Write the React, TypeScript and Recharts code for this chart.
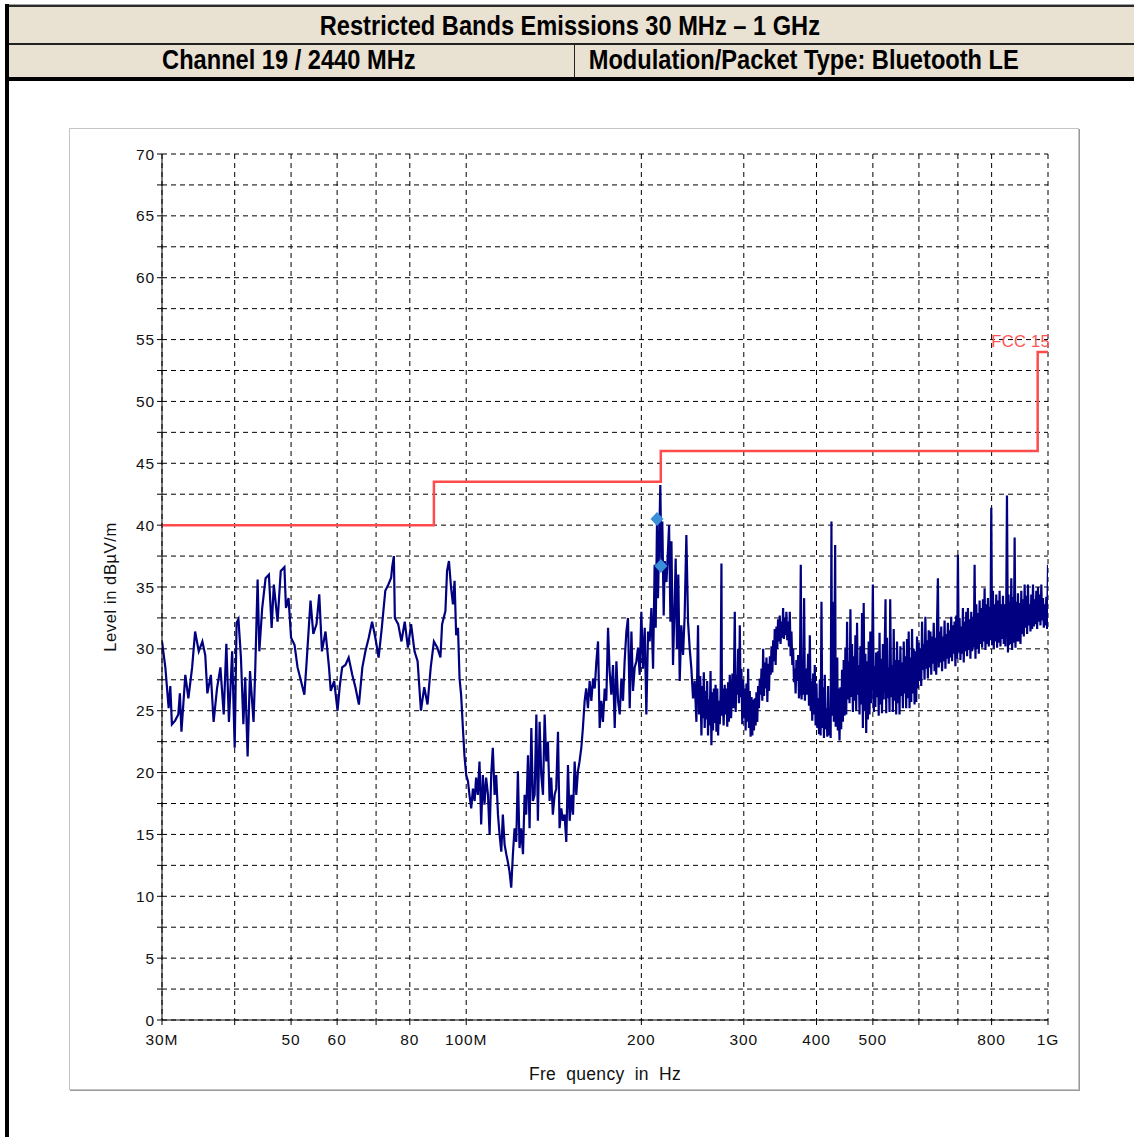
import React from 'react';
import {
  ComposedChart,
  Line,
  Scatter,
  XAxis,
  YAxis,
  CartesianGrid,
  ReferenceDot
} from 'recharts';

// measured trace, [frequency in MHz, level in dBuV/m]
const trace30to100: [number, number][] = [
  [30.0, 30.6], [30.4, 28.5], [30.8, 25.2], [31.0, 27.0], [31.2, 23.9], [31.6, 24.2],
  [32.0, 24.7], [32.2, 26.4], [32.4, 23.3], [32.9, 27.9], [33.3, 26.0], [33.8, 28.5],
  [34.2, 31.4], [34.7, 29.8], [35.2, 30.6], [35.6, 29.5], [35.9, 26.4], [36.4, 27.9],
  [36.8, 24.1], [37.3, 26.8], [37.8, 28.5], [38.3, 24.7], [38.7, 30.4], [39.1, 24.1],
  [39.6, 29.8], [40.0, 22.0], [40.3, 32.1], [40.6, 32.4], [41.0, 29.3], [41.4, 23.9],
  [41.7, 27.7], [42.1, 21.3], [42.5, 28.2], [43.1, 24.1], [43.4, 28.5], [43.8, 35.6],
  [44.1, 29.8], [44.6, 33.3], [45.2, 35.7], [45.8, 36.0], [46.3, 31.7], [46.7, 35.2],
  [47.4, 32.2], [48.0, 36.3], [48.7, 36.6], [49.0, 33.3], [49.5, 34.1], [50.0, 30.9],
  [50.7, 30.3], [51.3, 28.5], [52.0, 27.4], [52.7, 26.3], [53.1, 28.5], [54.0, 33.9],
  [54.6, 31.2], [55.3, 32.0], [55.9, 34.4], [56.5, 29.8], [57.3, 31.4], [58.1, 28.5],
  [58.5, 26.6], [59.3, 27.4], [60.1, 25.0], [60.6, 26.9], [61.2, 28.5], [62.0, 28.7],
  [62.8, 29.3], [63.7, 27.9], [64.5, 26.9], [65.4, 25.5], [66.3, 28.5], [67.1, 29.8],
  [68.0, 30.9], [68.9, 32.2], [69.8, 30.9], [70.7, 29.3], [71.6, 31.7], [72.6, 34.7],
  [73.5, 35.2], [74.3, 35.75], [74.6, 36.6], [75.1, 37.5], [75.4, 32.5], [76.4, 32.0],
  [77.4, 30.6], [78.4, 32.2], [79.4, 30.1], [80.4, 32.0], [81.5, 29.8], [82.5, 29.0],
  [83.6, 25.0], [84.7, 26.9], [85.8, 25.5], [86.9, 28.5], [88.0, 30.6], [89.2, 30.1],
  [90.3, 29.3], [90.9, 32.0], [92.1, 33.05], [92.7, 36.3], [93.4, 37.1], [94.2, 34.9],
  [94.9, 33.6], [95.5, 35.5], [96.1, 31.1], [96.8, 31.7], [97.4, 27.6], [98.0, 26.3],
  [98.7, 23.6], [99.3, 21.4], [100.0, 19.8]
];

const trace100to200: [number, number][] = [
  [100.7, 19.3], [101.3, 18.2], [102.0, 17.1], [102.7, 18.7], [103.4, 17.7], [104.0, 19.6],
  [104.7, 18.2], [105.4, 20.9], [106.1, 15.8], [106.8, 19.8], [107.5, 17.4], [108.2, 19.6],
  [109.0, 18.2], [109.7, 15.0], [110.4, 19.8], [111.1, 22.0], [111.9, 18.2], [112.6, 19.8],
  [113.4, 16.6], [114.1, 15.0], [114.9, 13.6], [115.6, 16.6], [116.4, 14.2], [117.2, 13.4],
  [117.9, 12.8], [118.7, 12.0], [119.5, 10.7], [120.3, 13.4], [121.1, 15.5], [121.9, 14.4],
  [122.7, 20.1], [123.5, 13.9], [124.3, 15.5], [125.2, 13.4], [126.0, 18.2], [126.8, 16.6],
  [127.7, 21.4], [128.5, 15.5], [129.4, 23.6], [130.2, 17.7], [131.1, 18.2], [132.0, 24.7],
  [132.8, 16.1], [133.7, 24.1], [134.6, 19.8], [135.5, 18.2], [136.4, 24.7], [137.3, 20.9],
  [138.2, 22.5], [139.1, 17.7], [140.0, 19.6], [140.9, 16.6], [141.9, 18.2], [142.8, 18.7],
  [143.8, 23.3], [144.7, 15.5], [145.7, 17.1], [146.6, 16.1], [147.6, 16.6], [148.6, 14.4],
  [149.6, 20.6], [150.6, 16.1], [151.6, 18.2], [152.6, 16.6], [153.6, 20.9], [154.6, 18.2],
  [155.6, 20.1], [156.6, 20.9], [157.7, 22.0], [158.7, 23.6], [159.8, 25.8], [160.8, 26.8],
  [161.9, 25.2], [163.0, 27.4], [164.1, 25.8], [165.2, 27.6], [166.3, 26.8], [167.4, 29.0],
  [168.5, 30.6], [169.6, 23.6], [170.7, 25.8], [171.8, 24.1], [173.0, 26.8], [174.1, 25.8],
  [175.3, 31.7], [176.4, 28.2], [177.6, 26.3], [178.8, 28.7], [180.0, 23.6], [181.2, 29.0],
  [182.4, 25.8], [183.6, 24.7], [184.8, 27.6], [186.0, 25.8], [187.2, 29.0], [188.5, 31.4],
  [189.7, 32.5], [191.0, 25.2], [192.3, 31.4], [193.5, 26.6], [194.8, 28.5], [196.1, 29.0],
  [197.4, 30.1], [198.7, 27.9]
];

const trace200to440: [number, number][] = [
  [200.0, 33.0], [201.3, 28.4], [202.7, 31.7], [204.0, 24.7], [205.4, 31.4], [206.7, 30.6],
  [208.1, 33.3], [209.5, 28.4], [210.8, 36.8], [211.7, 31.7], [212.8, 40.4], [213.6, 34.1],
  [214.5, 38.1], [215.6, 43.25], [216.5, 36.8], [217.3, 40.3], [218.5, 32.7], [219.4, 37.1],
  [220.9, 35.4], [222.3, 38.1], [223.2, 40.0], [224.4, 32.2], [225.3, 38.7], [226.7, 28.7],
  [228.2, 33.8], [229.1, 37.3], [230.3, 30.0], [231.5, 36.0], [232.8, 27.4], [234.3, 31.9],
  [235.9, 29.5], [237.4, 32.7], [239.0, 39.2], [240.6, 32.2], [242.2, 30.0], [243.8, 28.4],
  [245.4, 26.0], [247.0, 27.4], [248.7, 24.1], [250.3, 31.9], [251.3, 24.7], [252.5, 27.8],
  [253.7, 23.0], [254.5, 27.0], [255.3, 24.4], [256.1, 28.1], [257.0, 23.6], [257.9, 26.6],
  [258.7, 24.3], [259.5, 27.4], [260.4, 23.0], [261.2, 25.9], [262.1, 23.8], [263.0, 28.2],
  [263.9, 22.2], [264.7, 26.5], [265.6, 23.4], [266.5, 26.8], [267.4, 24.0], [268.3, 27.1],
  [269.2, 23.3], [270.1, 26.8], [271.0, 23.0], [271.9, 25.8], [272.8, 23.9], [273.7, 26.3],
  [274.6, 36.9], [275.2, 24.6], [275.7, 26.8], [277.0, 23.8], [278.2, 27.1], [279.1, 24.7],
  [280.1, 26.8], [281.0, 23.7], [281.9, 27.3], [282.8, 24.1], [283.8, 27.9], [285.3, 24.4],
  [286.8, 28.0], [288.1, 25.2], [289.5, 33.0], [290.5, 24.9], [291.5, 27.9], [292.4, 26.3],
  [293.4, 30.0], [294.3, 25.6], [295.3, 31.9], [296.2, 26.1], [297.2, 28.4], [298.2, 23.9],
  [299.2, 27.5], [300.2, 24.4], [301.2, 26.8], [302.2, 23.4], [303.2, 27.2], [304.2, 24.1],
  [305.2, 28.4], [306.2, 23.6], [307.2, 26.6], [308.2, 22.9], [309.3, 26.1], [310.3, 23.0],
  [311.3, 25.9], [312.3, 23.4], [313.4, 26.0], [314.4, 23.8], [315.4, 26.5], [316.4, 24.1],
  [317.5, 27.0], [318.5, 25.2], [319.6, 27.6], [320.7, 26.3], [321.8, 28.4], [322.8, 25.8],
  [323.9, 30.0], [325.0, 26.2], [326.0, 28.9], [327.1, 26.8], [328.2, 29.3], [329.3, 25.7],
  [330.4, 28.8], [331.5, 26.6], [332.6, 29.4], [333.7, 27.9], [334.8, 30.2], [335.9, 28.1],
  [337.0, 30.7], [338.1, 29.0], [339.1, 31.6], [340.3, 28.7], [341.4, 31.8], [342.5, 30.0],
  [343.6, 32.4], [344.8, 30.6], [345.9, 32.7], [347.0, 30.4], [348.2, 32.2], [349.3, 30.9],
  [350.5, 33.3], [351.6, 30.8], [352.8, 32.5], [353.9, 31.1], [355.1, 33.0], [356.3, 30.7],
  [357.5, 32.2], [358.7, 30.2], [359.9, 33.0], [361.1, 29.4], [362.3, 31.4], [363.5, 28.7],
  [364.7, 30.0], [365.9, 27.3], [367.1, 28.4], [368.3, 26.4], [369.5, 29.1], [370.7, 27.4],
  [372.0, 29.5], [373.2, 26.0], [374.4, 26.8], [375.9, 36.8], [377.1, 25.9], [378.4, 28.6],
  [379.6, 26.3], [380.9, 34.1], [382.1, 25.8], [383.4, 28.4], [385.2, 26.3], [387.0, 29.6],
  [388.3, 25.4], [389.6, 31.1], [390.9, 25.0], [392.1, 27.4], [393.4, 24.2], [394.7, 28.0],
  [396.0, 24.7], [397.3, 28.7], [398.6, 23.8], [400.0, 27.2], [401.3, 23.6], [402.6, 26.0],
  [404.0, 23.1], [405.3, 27.5], [406.6, 23.0], [408.0, 33.8], [409.4, 23.6], [410.7, 26.9],
  [412.0, 22.8], [413.4, 27.9], [414.7, 23.5], [416.1, 25.2], [417.5, 22.9], [418.9, 27.0],
  [420.3, 23.0], [421.7, 24.7], [423.1, 22.8], [424.4, 40.3], [425.3, 24.6], [426.1, 33.8],
  [428.4, 24.1], [430.7, 38.4], [431.6, 23.7], [432.4, 27.6], [433.4, 25.2], [434.3, 29.3],
  [435.2, 23.4], [436.1, 26.8]
];

const trace440to1000: [number, number][] = [
  [438.2, 22.6], [439.7, 26.9], [441.1, 23.5], [442.6, 28.3], [444.0, 24.1], [445.5, 29.1],
  [447.0, 24.6], [448.5, 30.1], [450.0, 24.7], [451.5, 32.2], [452.9, 25.9], [454.4, 29.0],
  [455.9, 25.6], [457.5, 33.2], [459.0, 26.1], [460.5, 30.4], [462.0, 24.9], [463.6, 29.4],
  [465.1, 25.8], [466.6, 31.1], [468.1, 25.0], [469.7, 32.1], [471.2, 26.3], [472.8, 28.7],
  [474.3, 24.7], [475.9, 30.2], [477.5, 25.5], [479.0, 32.9], [480.6, 23.6], [482.2, 33.7],
  [483.8, 25.0], [485.4, 29.6], [487.0, 23.2], [488.6, 29.0], [490.2, 24.3], [491.8, 30.6],
  [493.4, 24.7], [495.0, 31.4], [496.7, 25.6], [498.7, 29.9], [500.0, 35.2], [502.0, 24.9],
  [503.3, 28.6], [505.0, 25.3], [506.6, 29.7], [508.3, 26.1], [510.0, 29.8], [511.7, 24.6],
  [513.4, 31.3], [515.0, 25.5], [516.7, 29.2], [518.4, 24.8], [520.2, 30.4], [521.9, 25.9],
  [523.6, 29.2], [525.7, 34.0], [527.1, 24.8], [528.8, 30.9], [530.6, 26.0], [532.3, 28.5],
  [534.1, 24.9], [535.5, 34.0], [537.6, 26.1], [539.4, 28.7], [541.2, 24.9], [543.0, 31.6],
  [544.8, 25.8], [546.6, 29.1], [548.4, 24.7], [550.2, 30.6], [552.0, 25.6], [553.8, 29.1],
  [555.7, 24.7], [557.5, 30.2], [559.4, 26.2], [561.2, 28.9], [563.1, 25.2], [565.0, 30.6],
  [566.8, 26.4], [568.7, 29.4], [570.5, 25.2], [572.4, 30.8], [574.3, 26.0], [576.2, 31.4],
  [578.1, 25.2], [580.0, 29.3], [582.0, 25.7], [583.9, 31.6], [585.8, 26.4], [587.7, 30.0],
  [589.7, 25.5], [591.6, 29.8], [593.6, 25.7], [595.5, 31.0], [597.5, 26.8], [599.5, 30.5],
  [601.5, 27.4], [603.5, 30.0], [605.5, 27.0], [607.5, 32.2], [609.5, 28.3], [611.5, 30.4],
  [613.5, 27.5], [615.5, 32.6], [617.6, 28.4], [619.6, 30.7], [621.7, 27.6], [623.7, 31.5],
  [625.8, 28.5], [627.9, 31.4], [630.0, 27.9], [632.0, 31.0], [634.1, 28.8], [636.2, 32.1],
  [638.3, 28.2], [640.4, 30.9], [642.5, 27.9], [644.7, 32.2], [646.8, 35.7], [648.9, 28.5],
  [651.1, 31.4], [653.2, 28.9], [655.4, 31.8], [657.5, 28.2], [659.7, 31.0], [661.9, 29.0],
  [664.1, 32.3], [666.3, 28.4], [668.5, 31.2], [670.7, 29.2], [672.9, 32.1], [675.1, 28.8],
  [677.4, 31.5], [679.6, 29.3], [681.8, 32.6], [684.1, 29.0], [686.3, 31.9], [688.6, 29.6],
  [690.9, 32.2], [693.2, 28.6], [695.5, 32.7], [697.8, 29.2], [700.1, 37.6], [702.4, 29.7],
  [704.7, 32.5], [707.1, 29.1], [709.4, 31.8], [711.7, 29.6], [714.1, 33.3], [716.4, 28.9],
  [718.8, 32.2], [721.2, 29.8], [723.6, 33.0], [726.0, 29.4], [728.4, 33.3], [730.8, 29.9],
  [733.2, 32.4], [735.6, 29.2], [738.1, 33.0], [740.5, 29.8], [743.0, 32.6], [745.4, 30.1],
  [747.9, 36.8], [750.4, 29.2], [752.9, 33.6], [755.3, 30.0], [757.8, 32.9], [760.4, 29.6],
  [762.9, 33.9], [765.4, 30.4], [767.9, 33.3], [770.5, 30.1], [773.0, 34.0], [775.6, 30.6],
  [778.1, 34.9], [780.7, 29.9], [783.3, 33.6], [785.8, 30.4], [788.4, 34.1], [791.1, 30.2],
  [793.7, 33.4], [796.3, 30.7], [798.9, 41.4], [801.5, 30.3], [804.2, 34.7], [806.8, 30.0],
  [809.5, 33.6], [812.2, 30.6], [814.9, 34.4], [817.6, 30.1], [820.3, 33.9], [823.0, 30.5],
  [825.7, 34.7], [828.5, 30.2], [831.2, 33.6], [833.9, 30.8], [836.7, 34.3], [839.4, 30.4],
  [842.2, 33.6], [845.0, 30.2], [847.8, 34.0], [850.1, 42.4], [853.4, 29.7], [855.4, 34.4],
  [857.4, 30.3], [859.1, 33.8], [862.0, 30.4], [864.8, 35.7], [867.6, 29.9], [870.5, 34.2],
  [873.4, 30.5], [876.3, 39.0], [879.2, 30.1], [882.1, 33.8], [885.0, 30.6], [887.9, 34.5],
  [890.9, 30.6], [893.8, 33.7], [896.8, 30.4], [899.7, 34.7], [902.7, 31.2], [905.7, 34.0],
  [908.7, 31.0], [911.7, 35.2], [914.7, 31.7], [917.7, 34.3], [920.7, 31.2], [923.8, 35.2],
  [926.8, 31.9], [929.9, 33.6], [933.0, 31.4], [936.1, 34.4], [939.2, 31.6], [942.3, 35.2],
  [945.4, 31.8], [948.5, 34.0], [951.6, 32.0], [954.8, 34.7], [957.9, 31.6], [961.1, 35.0],
  [964.3, 32.2], [967.5, 34.4], [970.7, 31.9], [973.9, 35.2], [977.2, 32.3], [980.4, 34.1],
  [983.6, 31.7], [986.8, 33.6], [990.1, 31.9], [993.4, 34.2], [996.7, 31.6], [1000, 36.8]
];

// FCC 15 limit, stepped
const limitFreq = [30, 88, 216, 960, 1000];
const limitLevel = [40, 43.5, 46, 54, 54];

// final measurement markers
const markerFreq = [212.8, 216.1];
const markerLevel = [40.5, 36.7];

const xTicks = [30, 40, 50, 60, 70, 80, 100, 200, 300, 400, 500, 600, 700, 800, 1000];
const xTickLabels: Record<number, string> = {
  30: '30M', 50: '50', 60: '60', 80: '80', 100: '100M', 200: '200',
  300: '300', 400: '400', 500: '500', 800: '800', 1000: '1G'
};
const yTicks = [0, 2.5, 5, 7.5, 10, 12.5, 15, 17.5, 20, 22.5, 25, 27.5, 30, 32.5, 35,
  37.5, 40, 42.5, 45, 47.5, 50, 52.5, 55, 57.5, 60, 62.5, 65, 67.5, 70];

const traceData = [...trace30to100, ...trace100to200, ...trace200to440, ...trace440to1000]
  .map(([f, lvl]) => ({ f, lvl }));
const limitData = limitFreq.map((f, i) => ({ f, lim: limitLevel[i] }));
const markerData = markerFreq.map((f, i) => ({ f, lvl: markerLevel[i] }));

const TAN = '#e9e1d1';
const chartFont = '"Liberation Sans", Arial, sans-serif';

const headCell: React.CSSProperties = {
  position: 'absolute',
  display: 'flex',
  justifyContent: 'center',
  alignItems: 'center'
};

const headText: React.CSSProperties = {
  display: 'inline-block',
  transform: 'scaleX(0.875)',
  transformOrigin: 'center',
  whiteSpace: 'nowrap',
  fontFamily: chartFont,
  fontWeight: 'bold',
  fontSize: 27,
  color: '#000'
};

const Diamond = (props: any) => {
  const { cx, cy } = props;
  if (cx == null || cy == null) return null;
  return (
    <path
      d={`M${cx},${cy - 7}L${cx + 6.5},${cy}L${cx},${cy + 7}L${cx - 6.5},${cy}Z`}
      fill="#3b8fd8"
    />
  );
};

const FccLabel = (props: any) => {
  const vb = props.viewBox || {};
  return (
    <text
      x={(vb.x ?? 0) + 2}
      y={(vb.y ?? 0) - 5}
      textAnchor="end"
      fill="#ff5555"
      fontSize={16.5}
      fontFamily={chartFont}
      letterSpacing={0.3}
    >
      FCC 15
    </text>
  );
};

export default function App() {
  return (
    <div style={{ position: 'absolute', left: 0, top: 0, width: 1134, height: 1137, background: '#fff', overflow: 'hidden' }}>
      {/* header table */}
      <div style={{ position: 'absolute', left: 5, top: 4, width: 1129, height: 1, background: '#a0a0a0' }} />
      <div style={{ position: 'absolute', left: 5, top: 5, width: 1129, height: 2, background: '#2a2a2a' }} />
      <div style={{ position: 'absolute', left: 9, top: 7, width: 1125, height: 36, background: TAN }} />
      <div style={{ ...headCell, left: 9, top: 8, width: 1121, height: 36 }}>
        <span style={headText}>Restricted Bands Emissions 30 MHz – 1 GHz</span>
      </div>
      <div style={{ position: 'absolute', left: 9, top: 43, width: 1125, height: 1.5, background: '#222' }} />
      <div style={{ position: 'absolute', left: 9, top: 44.5, width: 1125, height: 33, background: TAN }} />
      <div style={{ ...headCell, left: 9, top: 44, width: 559, height: 33 }}>
        <span style={headText}>Channel 19 / 2440 MHz</span>
      </div>
      <div style={{ position: 'absolute', left: 574, top: 44, width: 1, height: 33, background: '#222' }} />
      <div style={{ ...headCell, left: 503, top: 44, width: 601, height: 33 }}>
        <span style={headText}>Modulation/Packet Type: Bluetooth LE</span>
      </div>
      <div style={{ position: 'absolute', left: 5, top: 77, width: 1129, height: 4, background: '#000' }} />
      <div style={{ position: 'absolute', left: 5, top: 4, width: 4, height: 1133, background: '#000' }} />

      {/* chart panel */}
      <div style={{
        position: 'absolute', left: 69, top: 128, width: 1010, height: 962, boxSizing: 'border-box',
        border: '1px solid #c4c4c4', boxShadow: '1px 1px 0 #9a9a9a', background: '#fff'
      }}>
        <ComposedChart
          width={1008}
          height={960}
          margin={{ top: 25, right: 30, left: 32, bottom: 9 }}
          style={{ fontFamily: chartFont }}
        >
          <CartesianGrid stroke="#000" strokeDasharray="5 4" strokeWidth={1} />
          <XAxis
            dataKey="f"
            type="number"
            scale="log"
            domain={[30, 1000]}
            allowDataOverflow
            ticks={xTicks}
            interval={0}
            tickFormatter={(v: number) => xTickLabels[v] ?? ''}
            height={60}
            tickSize={5}
            tickMargin={9}
            stroke="#000"
            tick={{ fill: '#111', fontSize: 15.5, letterSpacing: 0.9 }}
            label={{
              value: 'Fre quency  in  Hz', position: 'insideBottom', offset: 0,
              style: { fill: '#111', fontSize: 17.5, wordSpacing: 5, letterSpacing: 0.3 }
            }}
          />
          <YAxis
            type="number"
            domain={[0, 70]}
            ticks={yTicks}
            interval={0}
            width={60}
            tickSize={5}
            tickMargin={2}
            stroke="#000"
            tickFormatter={(v: number) => (v % 5 === 0 ? String(v) : '')}
            tick={{ fill: '#111', fontSize: 15.5, letterSpacing: 0.9 }}
            label={{
              value: 'Level in dBµV/m', angle: -90, position: 'insideLeft', offset: 8,
              style: { fill: '#111', fontSize: 16.5, textAnchor: 'middle', letterSpacing: 0.6 }
            }}
          />
          <Line
            data={traceData}
            dataKey="lvl"
            type="linear"
            stroke="#000080"
            strokeWidth={2.2}
            dot={false}
            isAnimationActive={false}
          />
          <Line
            data={limitData}
            dataKey="lim"
            type="stepAfter"
            stroke="#ff4b4b"
            strokeWidth={2.5}
            dot={false}
            isAnimationActive={false}
          />
          <Scatter
            data={markerData}
            dataKey="lvl"
            shape={Diamond}
            isAnimationActive={false}
          />
          <ReferenceDot
            x={1000}
            y={54}
            r={0}
            fill="none"
            stroke="none"
            label={<FccLabel />}
          />
        </ComposedChart>
      </div>
    </div>
  );
}
